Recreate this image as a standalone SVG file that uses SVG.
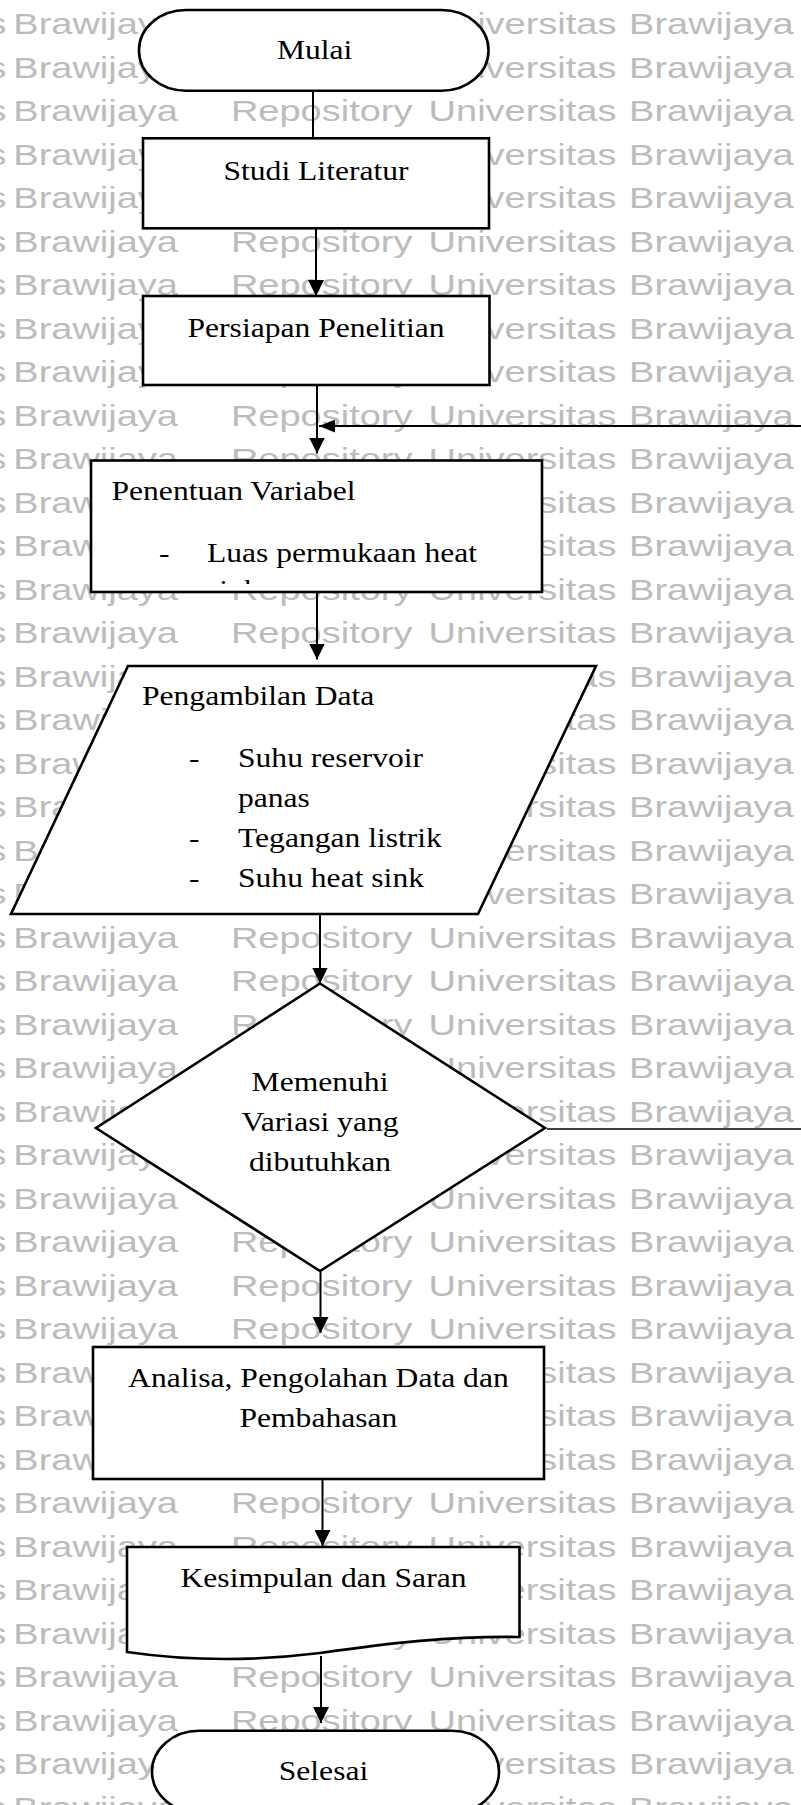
<svg xmlns="http://www.w3.org/2000/svg" xmlns:xlink="http://www.w3.org/1999/xlink" width="801" height="1805" viewBox="0 0 801 1805">
<style>
.wm{font-family:"Liberation Sans",Arial,sans-serif;font-size:29px;fill:#bcbcbc}
.t{font-family:"Liberation Serif","Times New Roman",serif;font-size:27px;fill:#000}
.shape{fill:#fff;stroke:#000;stroke-width:2.6}
.conn{stroke:#000;stroke-width:2;fill:none}
.thin{stroke:#000;stroke-width:1.3;fill:none}
</style>
<defs>
<marker id="arrow" markerUnits="userSpaceOnUse" markerWidth="16" markerHeight="16" refX="15" refY="7.5" orient="auto" viewBox="0 0 15 15">
<path d="M0,0 L15,7.5 L0,15 Z" fill="#000"/>
</marker>
<marker id="arrowL" markerUnits="userSpaceOnUse" markerWidth="16" markerHeight="13" refX="15" refY="6" orient="auto" viewBox="0 0 15 12">
<path d="M0,0 L15,6 L0,12 Z" fill="#000"/>
</marker>
<g id="wmrow"><text class="wm" transform="scale(1.31,1)"><tspan x="-289.3">Repository</tspan> <tspan x="-138.5">Universitas</tspan> <tspan x="10.2">Brawijaya</tspan> <tspan x="176.3">Repository</tspan> <tspan x="327.2">Universitas</tspan> <tspan x="480.2">Brawijaya</tspan></text></g>
<clipPath id="clipPV"><rect x="91" y="460" width="451" height="124"/></clipPath>
</defs>
<rect x="0" y="0" width="801" height="1805" fill="#fff"/>
<g id="watermark">
<use xlink:href="#wmrow" y="-9.2"/><use xlink:href="#wmrow" y="34.3"/><use xlink:href="#wmrow" y="77.8"/><use xlink:href="#wmrow" y="121.3"/>
<use xlink:href="#wmrow" y="164.8"/><use xlink:href="#wmrow" y="208.3"/><use xlink:href="#wmrow" y="251.8"/><use xlink:href="#wmrow" y="295.3"/>
<use xlink:href="#wmrow" y="338.8"/><use xlink:href="#wmrow" y="382.3"/><use xlink:href="#wmrow" y="425.8"/><use xlink:href="#wmrow" y="469.3"/>
<use xlink:href="#wmrow" y="512.8"/><use xlink:href="#wmrow" y="556.3"/><use xlink:href="#wmrow" y="599.8"/><use xlink:href="#wmrow" y="643.3"/>
<use xlink:href="#wmrow" y="686.8"/><use xlink:href="#wmrow" y="730.3"/><use xlink:href="#wmrow" y="773.8"/><use xlink:href="#wmrow" y="817.3"/>
<use xlink:href="#wmrow" y="860.8"/><use xlink:href="#wmrow" y="904.3"/><use xlink:href="#wmrow" y="947.8"/><use xlink:href="#wmrow" y="991.3"/>
<use xlink:href="#wmrow" y="1034.8"/><use xlink:href="#wmrow" y="1078.3"/><use xlink:href="#wmrow" y="1121.8"/><use xlink:href="#wmrow" y="1165.3"/>
<use xlink:href="#wmrow" y="1208.8"/><use xlink:href="#wmrow" y="1252.3"/><use xlink:href="#wmrow" y="1295.8"/><use xlink:href="#wmrow" y="1339.3"/>
<use xlink:href="#wmrow" y="1382.8"/><use xlink:href="#wmrow" y="1426.3"/><use xlink:href="#wmrow" y="1469.8"/><use xlink:href="#wmrow" y="1513.3"/>
<use xlink:href="#wmrow" y="1556.8"/><use xlink:href="#wmrow" y="1600.3"/><use xlink:href="#wmrow" y="1643.8"/><use xlink:href="#wmrow" y="1687.3"/>
<use xlink:href="#wmrow" y="1730.8"/><use xlink:href="#wmrow" y="1774.3"/><use xlink:href="#wmrow" y="1817.8"/>
</g>
<g id="connectors">
<path class="conn" d="M313,91 V138"/>
<path class="conn" d="M316,228 V296" marker-end="url(#arrow)"/>
<path class="conn" d="M317,385 V453.5" marker-end="url(#arrow)"/>
<path class="conn" d="M801,426 H319" marker-end="url(#arrowL)"/>
<path class="conn" d="M317,592 V659.5" marker-end="url(#arrow)"/>
<path class="conn" d="M320,914 V983.5" marker-end="url(#arrow)"/>
<path class="conn" d="M320.5,1271 V1333" marker-end="url(#arrow)"/>
<path class="conn" d="M322.5,1479 V1546" marker-end="url(#arrow)"/>
<path class="conn" d="M321,1656 V1723" marker-end="url(#arrow)"/>
<path class="thin" d="M547,1129 H801"/>
</g>
<g id="mulai">
<rect class="shape" x="139" y="10" width="349.5" height="80.7" rx="47" ry="40"/>
<text class="t" text-anchor="middle" transform="translate(314.6,0) scale(1.17,1)"><tspan x="0" y="59.5">Mulai</tspan></text>
</g>
<g id="studi">
<rect class="shape" x="143" y="138.3" width="346" height="90"/>
<text class="t" text-anchor="middle" transform="translate(316,0) scale(1.17,1)"><tspan x="0" y="180">Studi Literatur</tspan></text>
</g>
<g id="persiapan">
<rect class="shape" x="143" y="296" width="346.5" height="89"/>
<text class="t" text-anchor="middle" transform="translate(316,0) scale(1.17,1)"><tspan x="0" y="336.7">Persiapan Penelitian</tspan></text>
</g>
<g id="penentuan">
<rect class="shape" x="91" y="460.5" width="451" height="131.5"/>
<text class="t" transform="translate(111.5,0) scale(1.17,1)"><tspan x="0" y="500">Penentuan Variabel</tspan></text>
<text class="t" transform="translate(159,0) scale(1.17,1)"><tspan x="0" y="562">-</tspan></text>
<text class="t" transform="translate(207,0) scale(1.17,1)"><tspan x="0" y="562">Luas permukaan heat</tspan></text>
<g clip-path="url(#clipPV)"><text class="t" transform="translate(207,0) scale(1.17,1)"><tspan x="0" y="599">sink</tspan></text></g>
</g>
<g id="pengambilan">
<polygon class="shape" points="128,666 596,666 478,914 11,914"/>
<text class="t" transform="translate(142,0) scale(1.17,1)"><tspan x="0" y="705">Pengambilan Data</tspan></text>
<text class="t" transform="translate(189,0) scale(1.17,1)"><tspan x="0" y="767">-</tspan><tspan x="0" y="847">-</tspan><tspan x="0" y="887">-</tspan></text>
<text class="t" transform="translate(238,0) scale(1.17,1)"><tspan x="0" y="767">Suhu reservoir</tspan><tspan x="0" y="807">panas</tspan><tspan x="0" y="847">Tegangan listrik</tspan><tspan x="0" y="887">Suhu heat sink</tspan></text>
</g>
<g id="keputusan">
<polygon class="shape" points="320,983.5 545,1128 320,1271 96,1128"/>
<text class="t" text-anchor="middle" transform="translate(320,0) scale(1.17,1)"><tspan x="0" y="1091">Memenuhi</tspan><tspan x="0" y="1131">Variasi yang</tspan><tspan x="0" y="1171">dibutuhkan</tspan></text>
</g>
<g id="analisa">
<rect class="shape" x="93" y="1347" width="451" height="132"/>
<text class="t" text-anchor="middle" transform="translate(318.4,0) scale(1.17,1)"><tspan x="0" y="1387">Analisa, Pengolahan Data dan</tspan><tspan x="0" y="1427">Pembahasan</tspan></text>
</g>
<g id="kesimpulan">
<path class="shape" d="M127,1547 H519.5 V1637 C450,1636 390,1643 320,1653 C240,1663 175,1659 127,1652 Z"/>
<text class="t" text-anchor="middle" transform="translate(323.5,0) scale(1.17,1)"><tspan x="0" y="1587">Kesimpulan dan Saran</tspan></text>
</g>
<g id="selesai">
<rect class="shape" x="152" y="1730.7" width="347" height="82" rx="47" ry="41"/>
<text class="t" text-anchor="middle" transform="translate(323.5,0) scale(1.17,1)"><tspan x="0" y="1780">Selesai</tspan></text>
</g>
</svg>
